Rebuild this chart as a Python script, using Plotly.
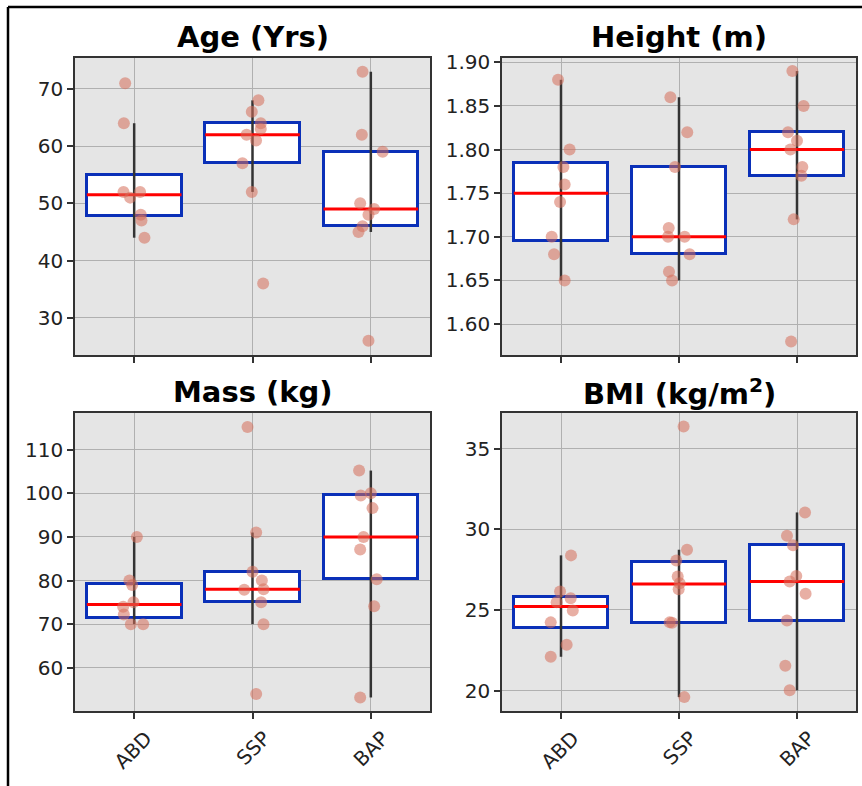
import plotly.graph_objects as go

W, H = 862, 786

categories = ["ABD", "SSP", "BAP"]
titles = ["Age (Yrs)", "Height (m)", "Mass (kg)", "BMI (kg/m<sup>2</sup>)"]

# ---- raw points (values) and their horizontal jitter offsets (category units) ----
age_abd = [71, 64, 52, 51, 52, 48, 47, 44]
age_abd_dx = [-0.076, -0.087, -0.09, -0.034, 0.05, 0.056, 0.062, 0.087]
age_ssp = [68, 66, 64, 63, 62, 61, 57, 52, 36]
age_ssp_dx = [0.05, -0.006, 0.07, 0.07, -0.05, 0.03, -0.085, -0.006, 0.09]
age_bap = [73, 62, 59, 50, 49, 48, 46, 45, 26]
age_bap_dx = [-0.07, -0.076, 0.1, -0.09, 0.028, -0.02, -0.07, -0.104, -0.02]

ht_abd = [1.88, 1.80, 1.78, 1.76, 1.74, 1.70, 1.68, 1.65]
ht_abd_dx = [-0.025, 0.073, 0.02, 0.031, -0.008, -0.079, -0.059, 0.031]
ht_ssp = [1.86, 1.82, 1.78, 1.71, 1.70, 1.70, 1.68, 1.66, 1.65]
ht_ssp_dx = [-0.073, 0.07, -0.034, -0.087, -0.093, 0.048, 0.09, -0.085, -0.059]
ht_bap = [1.89, 1.85, 1.82, 1.81, 1.80, 1.78, 1.77, 1.72, 1.58]
ht_bap_dx = [-0.039, 0.056, -0.076, 0.0, -0.056, 0.045, 0.037, -0.028, -0.05]

ms_abd = [90, 80, 79, 75, 74, 72.2, 70, 70]
ms_abd_dx = [0.023, -0.04, -0.017, -0.006, -0.093, -0.087, -0.028, 0.076]
ms_ssp = [115.2, 91, 82, 80, 77.9, 78, 75, 70, 54]
ms_ssp_dx = [-0.042, 0.031, 0.0, 0.079, -0.07, 0.093, 0.073, 0.093, 0.031]
ms_bap = [105.2, 99.5, 100, 96.6, 90, 87.1, 80.3, 74.1, 53.2]
ms_bap_dx = [-0.099, -0.085, 0.0, 0.014, -0.062, -0.09, 0.05, 0.028, -0.09]

bmi_abd = [28.38, 26.14, 25.73, 25.48, 24.96, 24.23, 22.84, 22.1]
bmi_abd_dx = [0.085, -0.008, 0.082, -0.037, 0.1, -0.087, 0.048, -0.087]
bmi_ssp = [36.36, 28.73, 28.07, 27.07, 26.66, 26.28, 24.23, 24.2, 19.6]
bmi_ssp_dx = [0.039, 0.068, -0.023, -0.011, 0.006, -0.003, -0.079, -0.059, 0.045]
bmi_bap = [31.04, 29.6, 29.0, 27.1, 26.76, 26.0, 24.34, 21.54, 20.02]
bmi_bap_dx = [0.068, -0.085, -0.034, -0.006, -0.062, 0.073, -0.085, -0.099, -0.062]

# ---- box statistics per category: q1, median, q3, whisker low, whisker high ----
age_q1 = [47.75, 57, 46]; age_med = [51.5, 62, 49]; age_q3 = [55, 64, 59]
age_lo = [44, 52, 45]; age_hi = [64, 68, 73]
ht_q1 = [1.695, 1.68, 1.77]; ht_med = [1.75, 1.70, 1.80]; ht_q3 = [1.785, 1.78, 1.82]
ht_lo = [1.65, 1.65, 1.72]; ht_hi = [1.88, 1.86, 1.89]
ms_q1 = [71.5, 75, 80.3]; ms_med = [74.5, 78, 90]; ms_q3 = [79.25, 82, 99.5]
ms_lo = [70, 70, 53.2]; ms_hi = [90, 91, 105.2]
bmi_q1 = [23.88, 24.2, 24.34]; bmi_med = [25.22, 26.6, 26.76]; bmi_q3 = [25.83, 28.0, 29.0]
bmi_lo = [22.1, 19.6, 20.02]; bmi_hi = [28.38, 28.73, 31.04]

# axis ranges and ticks
age_range = [23.5, 75.4]; age_ticks = [30, 40, 50, 60, 70]
ht_range = [1.5645, 1.905]; ht_ticks = [1.60, 1.65, 1.70, 1.75, 1.80, 1.85, 1.90]
ms_range = [50.1, 118.4]; ms_ticks = [60, 70, 80, 90, 100, 110]
bmi_range = [18.74, 37.2]; bmi_ticks = [20, 25, 30, 35]

panels = [
    dict(pts=[age_abd, age_ssp, age_bap], dx=[age_abd_dx, age_ssp_dx, age_bap_dx],
         q1=age_q1, med=age_med, q3=age_q3, lo=age_lo, hi=age_hi,
         rng=age_range, ticks=age_ticks, fmt=".0f"),
    dict(pts=[ht_abd, ht_ssp, ht_bap], dx=[ht_abd_dx, ht_ssp_dx, ht_bap_dx],
         q1=ht_q1, med=ht_med, q3=ht_q3, lo=ht_lo, hi=ht_hi,
         rng=ht_range, ticks=ht_ticks, fmt=".2f"),
    dict(pts=[ms_abd, ms_ssp, ms_bap], dx=[ms_abd_dx, ms_ssp_dx, ms_bap_dx],
         q1=ms_q1, med=ms_med, q3=ms_q3, lo=ms_lo, hi=ms_hi,
         rng=ms_range, ticks=ms_ticks, fmt=".0f"),
    dict(pts=[bmi_abd, bmi_ssp, bmi_bap], dx=[bmi_abd_dx, bmi_ssp_dx, bmi_bap_dx],
         q1=bmi_q1, med=bmi_med, q3=bmi_q3, lo=bmi_lo, hi=bmi_hi,
         rng=bmi_range, ticks=bmi_ticks, fmt=".0f"),
]

# pixel layout of panels (left, right, top, bottom)
boxes_px = [(75, 430, 58, 355), (502, 856, 58, 355), (75, 430, 413, 711), (502, 856, 413, 711)]
title_px = [37, 37, 392, 392]

BOX_W = 0.8
BLUE = "#0a30b8"
RED = "#ff0000"
WHISK = "#333333"
PT = "rgba(214,110,90,0.55)"
FONT = "DejaVu Sans"

fig = go.Figure()
layout = dict(
    width=W, height=H, margin=dict(l=0, r=0, t=0, b=0),
    paper_bgcolor="white", plot_bgcolor="#e5e5e5",
    showlegend=False, font=dict(family=FONT, size=20, color="#222222"),
    bargap=0, annotations=[], shapes=[],
)

for i, p in enumerate(panels):
    n = i + 1
    xa = "x" if n == 1 else f"x{n}"
    ya = "y" if n == 1 else f"y{n}"
    xs = [0, 1, 2]
    # whiskers
    wx, wy = [], []
    for k in xs:
        wx += [k, k, None]
        wy += [p["lo"][k], p["hi"][k], None]
    fig.add_trace(go.Scatter(x=wx, y=wy, mode="lines", line=dict(color=WHISK, width=2.5),
                             xaxis=xa, yaxis=ya, hoverinfo="skip"))
    # boxes
    fig.add_trace(go.Bar(x=xs, y=[p["q3"][k] - p["q1"][k] for k in xs], base=p["q1"],
                         width=BOX_W, marker=dict(color="white", line=dict(color=BLUE, width=3)),
                         xaxis=xa, yaxis=ya))
    # medians
    mx, my = [], []
    for k in xs:
        mx += [k - BOX_W / 2, k + BOX_W / 2, None]
        my += [p["med"][k], p["med"][k], None]
    fig.add_trace(go.Scatter(x=mx, y=my, mode="lines", line=dict(color=RED, width=3),
                             xaxis=xa, yaxis=ya))
    # points
    px_, py_ = [], []
    for k in xs:
        px_ += [k + d for d in p["dx"][k]]
        py_ += p["pts"][k]
    fig.add_trace(go.Scatter(x=px_, y=py_, mode="markers",
                             marker=dict(color=PT, size=12, line=dict(width=0)),
                             xaxis=xa, yaxis=ya))

    l, r, t, b = boxes_px[i]
    axcommon = dict(showline=True, linecolor="#333333", linewidth=1.5, mirror=True,
                    showgrid=True, gridcolor="#b0b0b0", gridwidth=1, zeroline=False,
                    ticks="outside", ticklen=6, tickwidth=1.5, tickcolor="#333333",
                    automargin=False)
    xkey = "xaxis" if n == 1 else f"xaxis{n}"
    ykey = "yaxis" if n == 1 else f"yaxis{n}"
    xd = dict(axcommon)
    xd.update(domain=[l / W, r / W], anchor=ya, range=[-0.5, 2.5],
              tickvals=xs, ticktext=categories, showticklabels=(i >= 2),
              tickangle=-45, tickfont=dict(size=20), ticklabelshift=12)
    yd = dict(axcommon)
    yd.update(domain=[(H - b) / H, (H - t) / H], anchor=xa, range=p["rng"],
              tickvals=p["ticks"], ticktext=[format(v, p["fmt"]) for v in p["ticks"]],
              tickfont=dict(size=20))
    layout[xkey] = xd
    layout[ykey] = yd
    layout["annotations"].append(dict(
        text=f"<b>{titles[i]}</b>", x=(l + r) / 2 / W, y=(H - title_px[i]) / H,
        xref="paper", yref="paper", xanchor="center", yanchor="middle",
        showarrow=False, font=dict(size=29, color="black", family=FONT)))

# outer frame lines (top and left)
layout["shapes"].append(dict(type="line", xref="paper", yref="paper",
                             x0=8 / W, x1=1, y0=(H - 7) / H, y1=(H - 7) / H,
                             line=dict(color="black", width=2.5)))
layout["shapes"].append(dict(type="line", xref="paper", yref="paper",
                             x0=8 / W, x1=8 / W, y0=0, y1=(H - 7) / H,
                             line=dict(color="black", width=2.5)))

fig.update_layout(**layout)
fig.write_html("out.html")
